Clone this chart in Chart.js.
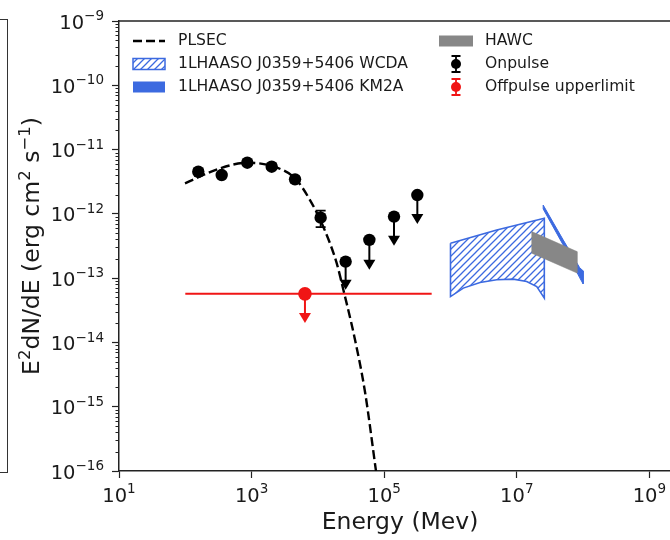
<!DOCTYPE html>
<html><head><meta charset="utf-8">
<script src="https://cdn.jsdelivr.net/npm/chart.js@4.4.0/dist/chart.umd.min.js"></script>
<style>
html,body{margin:0;padding:0;background:#fff;overflow:hidden;width:670px;height:540px;}
#wrap{position:absolute;left:0;top:0;width:700px;height:540px;}
#frame{position:absolute;left:-20px;top:19px;width:26px;height:452px;border:1.5px solid #333;}
</style></head><body>
<div id="frame"></div>
<div id="wrap"><canvas id="c" width="700" height="540"></canvas></div>
<script>
// ---------- data ----------
const onE  = [157, 354, 861, 2010, 4520, 11000];
const onF  = [4.52e-12, 4.02e-12, 6.24e-12, 5.41e-12, 3.44e-12, 8.73e-13];
const onLo = [4.15e-12, 3.70e-12, 5.75e-12, 4.95e-12, 3.10e-12, 6.2e-13];
const onHi = [4.95e-12, 4.40e-12, 6.75e-12, 5.90e-12, 3.80e-12, 1.12e-12];

const ulE   = [26200, 59700, 140600, 316000];
const ulF   = [1.81e-13, 3.94e-13, 9.06e-13, 1.96e-12];
const ulTip = [6.6e-14, 1.35e-13, 3.18e-13, 6.98e-13];

const offE = [6380];
const offF = [5.7e-14];
const offXlo = [100];
const offXhi = [5.2e5];
const offTip = [2.0e-14];

const plsecE = [99, 333, 861, 2010, 4520, 7600, 12050, 19200, 24200, 35400, 51300, 75200];
const plsecF = [2.99e-12, 5.1e-12, 6.24e-12, 5.55e-12, 3.57e-12, 1.64e-12, 6.3e-13, 1.71e-13, 6.6e-14, 1.24e-14, 1.71e-15, 1.0e-16];

const wcdaTopE = [1.0e6, 4.98e6, 2.6e7];
const wcdaTopF = [3.49e-13, 5.62e-13, 8.55e-13];
const wcdaBotE = [1.0e6, 1.56e6, 2.79e6, 4.98e6, 8.85e6, 1.41e7, 2.0e7, 2.6e7];
const wcdaBotF = [5.17e-14, 7.0e-14, 8.55e-14, 9.42e-14, 9.65e-14, 8.85e-14, 7.41e-14, 4.89e-14];

const km2aTopE = [2.5e7, 5.0e7, 8.9e7, 1.0e8];
const km2aTopF = [1.37e-12, 3.94e-13, 1.45e-13, 1.3e-13];
const km2aBotE = [2.5e7, 5.0e7, 8.9e7, 1.0e8];
const km2aBotF = [1.19e-12, 3.29e-13, 1.01e-13, 8.15e-14];

const hawcTopE = [1.68e7, 8.1e7];
const hawcTopF = [5.3e-13, 2.59e-13];
const hawcBotE = [1.68e7, 8.1e7];
const hawcBotF = [2.45e-13, 1.2e-13];

const xTicks = [1e1, 1e3, 1e5, 1e7, 1e9];
const yTicks = [1e-16, 1e-15, 1e-14, 1e-13, 1e-12, 1e-11, 1e-10, 1e-9];

const labels = {
  plsec: 'PLSEC',
  wcda: '1LHAASO J0359+5406 WCDA',
  km2a: '1LHAASO J0359+5406 KM2A',
  hawc: 'HAWC',
  on: 'Onpulse',
  off: 'Offpulse upperlimit'
};
// y title pieces: [text, isSuperscript]
const yTitleParts = [['E', false], ['2', true], ['dN/dE (erg cm', false], ['2', true], [' s', false], ['\u22121', true], [')', false]];
const xTitle = 'Energy (Mev)';

// ---------- styles ----------
const BLUE = '#3c6ae0';
const GREY = '#878787';
const RED = '#f01515';
const INK = '#1a1a1a';
const FONT = "'DejaVu Sans', sans-serif";
const BASEF = '19.5px ' + FONT;
const EXPF = '13.5px ' + FONT;
const TITLEF = '23.5px ' + FONT;
const TITLESUPF = '16.5px ' + FONT;

function pts(E, F) { return E.map((e, i) => ({x: e, y: F[i]})); }
function poly(tE, tF, bE, bF) {
  const t = pts(tE, tF), b = pts(bE, bF).reverse();
  return t.concat(b, [t[0]]);
}
function makeHatch(color) {
  const s = 7, c = document.createElement('canvas');
  c.width = s; c.height = s;
  const g = c.getContext('2d');
  g.strokeStyle = color; g.lineWidth = 1.3;
  g.beginPath();
  g.moveTo(0, s); g.lineTo(s, 0);
  g.moveTo(-1, 1); g.lineTo(1, -1);
  g.moveTo(s - 1, s + 1); g.lineTo(s + 1, s - 1);
  g.stroke();
  return g.createPattern(c, 'repeat');
}
const hatch = makeHatch(BLUE);

// ---------- helpers ----------
function drawArrow(ctx, xp, y0, y1, color) {
  ctx.strokeStyle = color; ctx.fillStyle = color; ctx.lineWidth = 2;
  ctx.beginPath(); ctx.moveTo(xp, y0); ctx.lineTo(xp, y1 - 8); ctx.stroke();
  ctx.beginPath(); ctx.moveTo(xp - 6, y1 - 10); ctx.lineTo(xp + 6, y1 - 10); ctx.lineTo(xp, y1); ctx.closePath(); ctx.fill();
}
function drawErr(ctx, xp, y0, y1, color, cap) {
  ctx.strokeStyle = color; ctx.lineWidth = 1.8;
  ctx.beginPath(); ctx.moveTo(xp, y0); ctx.lineTo(xp, y1);
  ctx.moveTo(xp - cap, y0); ctx.lineTo(xp + cap, y0);
  ctx.moveTo(xp - cap, y1); ctx.lineTo(xp + cap, y1);
  ctx.stroke();
}
function drawPow(ctx, v, px, py, align) {
  const es = String(Math.round(Math.log10(v))).replace('-', '\u2212');
  ctx.font = BASEF; const wb = ctx.measureText('10').width;
  ctx.font = EXPF; const we = ctx.measureText(es).width;
  const x0 = align === 'center' ? px - (wb + we) / 2 : px - (wb + we);
  ctx.fillStyle = INK; ctx.textBaseline = 'alphabetic'; ctx.textAlign = 'left';
  ctx.font = BASEF; ctx.fillText('10', x0, py);
  ctx.font = EXPF; ctx.fillText(es, x0 + wb, py - 8.3);
}
function drawYTitle(ctx, cx, cy) {
  let total = 0;
  yTitleParts.forEach(([t, s]) => { ctx.font = s ? TITLESUPF : TITLEF; total += ctx.measureText(t).width; });
  ctx.save();
  ctx.translate(cx, cy); ctx.rotate(-Math.PI / 2);
  ctx.fillStyle = INK; ctx.textBaseline = 'alphabetic'; ctx.textAlign = 'left';
  let p = -total / 2;
  yTitleParts.forEach(([t, s]) => {
    ctx.font = s ? TITLESUPF : TITLEF;
    ctx.fillText(t, p, s ? -9.5 : 0);
    p += ctx.measureText(t).width;
  });
  ctx.restore();
}

const extras = {
  id: 'extras',
  beforeDatasetsDraw(chart) {
    const {ctx, chartArea: a, scales: {x, y}} = chart;
    ctx.save();
    ctx.beginPath(); ctx.rect(a.left, a.top, a.right - a.left, a.bottom - a.top); ctx.clip();
    offE.forEach((e, i) => {
      ctx.strokeStyle = RED; ctx.lineWidth = 2;
      const yp = y.getPixelForValue(offF[i]);
      ctx.beginPath(); ctx.moveTo(x.getPixelForValue(offXlo[i]), yp); ctx.lineTo(x.getPixelForValue(offXhi[i]), yp); ctx.stroke();
      drawArrow(ctx, x.getPixelForValue(e), yp, y.getPixelForValue(offTip[i]), RED);
    });
    onE.forEach((e, i) => {
      drawErr(ctx, x.getPixelForValue(e), y.getPixelForValue(onHi[i]), y.getPixelForValue(onLo[i]), '#000', 5);
    });
    ulE.forEach((e, i) => {
      drawArrow(ctx, x.getPixelForValue(e), y.getPixelForValue(ulF[i]), y.getPixelForValue(ulTip[i]), '#000');
    });
    ctx.restore();
  },
  afterDraw(chart) {
    const {ctx, chartArea: a, scales: {x, y}} = chart;
    ctx.save();
    ctx.strokeStyle = '#222'; ctx.lineWidth = 1.5;
    ctx.beginPath(); ctx.moveTo(a.left, a.top); ctx.lineTo(a.right, a.top); ctx.stroke();
    ctx.lineWidth = 1;
    for (let d = -16; d < -9; d++) {
      for (let m = 2; m <= 9; m++) {
        const yp = Math.round(y.getPixelForValue(m * Math.pow(10, d))) + 0.5;
        ctx.beginPath(); ctx.moveTo(a.left, yp); ctx.lineTo(a.left - 3.5, yp); ctx.stroke();
      }
    }
    xTicks.forEach(v => drawPow(ctx, v, x.getPixelForValue(v), a.bottom + 30.5, 'center'));
    yTicks.forEach(v => drawPow(ctx, v, a.left - 15, y.getPixelForValue(v) + 7.5, 'right'));
    drawYTitle(ctx, 39, (a.top + a.bottom) / 2);
    // legend
    ctx.font = '15.6px ' + FONT;
    ctx.fillStyle = INK;
    ctx.textBaseline = 'middle';
    ctx.textAlign = 'left';
    const r1 = 41, r2 = 64, r3 = 87;
    const lx = 133, lw = 32, tx1 = 178, rx = 439, tx2 = 485;
    ctx.fillText(labels.plsec, tx1, r1);
    ctx.fillText(labels.wcda, tx1, r2);
    ctx.fillText(labels.km2a, tx1, r3);
    ctx.fillText(labels.hawc, tx2, r1);
    ctx.fillText(labels.on, tx2, r2);
    ctx.fillText(labels.off, tx2, r3);
    ctx.strokeStyle = '#000'; ctx.lineWidth = 2.4; ctx.setLineDash([9, 4]);
    ctx.beginPath(); ctx.moveTo(lx, r1); ctx.lineTo(lx + lw, r1); ctx.stroke();
    ctx.setLineDash([]);
    ctx.fillStyle = hatch; ctx.fillRect(lx, r2 - 5.5, lw, 11);
    ctx.strokeStyle = BLUE; ctx.lineWidth = 1.5; ctx.strokeRect(lx, r2 - 5.5, lw, 11);
    ctx.fillStyle = BLUE; ctx.fillRect(lx, r3 - 5.5, lw, 11);
    ctx.fillStyle = GREY; ctx.fillRect(rx, r1 - 5.5, 34, 11);
    [[r2, '#000'], [r3, RED]].forEach(([r, col]) => {
      drawErr(ctx, rx + 17, r - 8, r + 8, col, 4.5);
      ctx.fillStyle = col; ctx.beginPath(); ctx.arc(rx + 17, r, 5, 0, Math.PI * 2); ctx.fill();
    });
    ctx.restore();
  }
};

// ---------- chart ----------
new Chart(document.getElementById('c'), {
  type: 'scatter',
  data: {
    datasets: [
      {label: labels.on, data: pts(onE, onF), backgroundColor: '#000', borderColor: '#000', pointRadius: 6.2, order: 1},
      {label: labels.on + ' UL', data: pts(ulE, ulF), backgroundColor: '#000', borderColor: '#000', pointRadius: 6.2, order: 1},
      {label: labels.off, data: pts(offE, offF), backgroundColor: RED, borderColor: RED, pointRadius: 6.8, order: 2},
      {label: labels.plsec, data: pts(plsecE, plsecF), showLine: true, borderColor: '#000', borderWidth: 2.4,
       borderDash: [9, 4], pointRadius: 0, cubicInterpolationMode: 'monotone', order: 3},
      {label: labels.hawc, data: poly(hawcTopE, hawcTopF, hawcBotE, hawcBotF), showLine: true, fill: 'shape',
       backgroundColor: GREY, borderColor: GREY, borderWidth: 0.5, pointRadius: 0, order: 4},
      {label: labels.km2a, data: poly(km2aTopE, km2aTopF, km2aBotE, km2aBotF), showLine: true, fill: 'shape',
       backgroundColor: BLUE, borderColor: BLUE, borderWidth: 1, pointRadius: 0, order: 5},
      {label: labels.wcda, data: poly(wcdaTopE, wcdaTopF, wcdaBotE, wcdaBotF), showLine: true, fill: 'shape',
       backgroundColor: hatch, borderColor: BLUE, borderWidth: 1.6, pointRadius: 0, order: 6}
    ]
  },
  options: {
    responsive: false,
    animation: false,
    layout: {padding: {left: 0, top: 21, right: 19, bottom: 0}},
    plugins: {legend: {display: false}, tooltip: {enabled: false}},
    elements: {point: {borderWidth: 0}},
    scales: {
      x: {
        type: 'logarithmic', min: 10, max: Math.pow(10, 9.4766),
        afterBuildTicks: s => { s.ticks = xTicks.map(v => ({value: v})); },
        afterFit: s => { s.height = 69; },
        ticks: {display: false, autoSkip: false},
        grid: {display: true, drawOnChartArea: false, tickLength: 7, tickWidth: 1.2, tickColor: '#222'},
        border: {display: true, color: '#222', width: 1.5},
        title: {display: true, text: xTitle, font: {family: FONT, size: 23.5}, color: INK, padding: {top: 0, bottom: 3}}
      },
      y: {
        type: 'logarithmic', min: 1e-16, max: 1e-9,
        afterBuildTicks: s => { s.ticks = yTicks.map(v => ({value: v})); },
        afterFit: s => { s.width = 119; },
        ticks: {display: false, autoSkip: false},
        grid: {display: true, drawOnChartArea: false, tickLength: 7, tickWidth: 1.2, tickColor: '#222'},
        border: {display: true, color: '#222', width: 1.5},
        title: {display: false}
      }
    }
  },
  plugins: [extras]
});
</script>
</body></html>
